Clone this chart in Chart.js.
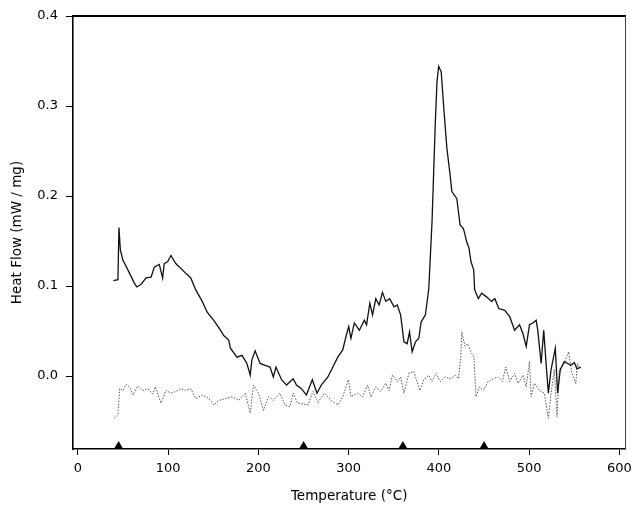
<!DOCTYPE html>
<html>
<head>
<meta charset="utf-8">
<script src="https://cdn.jsdelivr.net/npm/chart.js@4/dist/chart.umd.min.js"></script>
<style>
  html, body { margin: 0; padding: 0; background: #fff; }
  canvas { display: block; }
</style>
</head>
<body>
<canvas id="c" width="638" height="508"></canvas>
<script>
// ---- data ----
const solidT = [39.2,44.3,45.4,47.0,49.8,55.3,62.6,65.2,70,75.5,81,84.6,90.1,93.8,95.6,99.3,103,108.4,117.6,125,130.4,137.7,143.2,150.5,157.9,161.5,167,168.9,176.2,181.7,187.2,190.9,192.7,196.3,201.8,207.3,212.8,216.5,219.4,225.6,231.1,238.5,242.1,247.6,253.1,259.7,264.8,269.6,276.9,282.4,287.9,293.4,297,300,302.5,306.2,311.8,317.3,319.8,323.4,326.4,330,333.7,337.4,341,345.4,350.2,353.8,357.5,361.2,364.8,367.4,370.3,374,377.7,380.2,385,388.7,392.3,396,397.8,399.7,402.5,405.1,408.8,412.4,414.3,419.8,423.4,427.1,430.8,433.3,435.5,438.5,439.5,443.6,447.3,452.7,458.2,461.9,466.3,472.9,478.4,483.8,489.3,493.1,496.7,500.3,504,507.7,509.5,513.2,516.1,518.7,521.2,524.2,528.9,531.5,534.4,538.8,542.5,546.2,550,553,557];
const solidHF = [0.106,0.107,0.165,0.140,0.129,0.118,0.103,0.099,0.102,0.109,0.110,0.121,0.124,0.109,0.125,0.127,0.134,0.125,0.116,0.109,0.096,0.083,0.071,0.062,0.051,0.045,0.040,0.031,0.021,0.023,0.014,0.001,0.018,0.028,0.014,0.012,0.010,-0.001,0.010,-0.004,-0.010,-0.003,-0.010,-0.014,-0.021,-0.004,-0.019,-0.010,-0.001,0.010,0.021,0.029,0.044,0.055,0.042,0.059,0.051,0.062,0.057,0.081,0.068,0.086,0.079,0.093,0.083,0.086,0.077,0.079,0.068,0.038,0.036,0.049,0.027,0.038,0.042,0.060,0.068,0.097,0.171,0.283,0.327,0.344,0.338,0.301,0.253,0.223,0.205,0.197,0.168,0.164,0.149,0.142,0.127,0.118,0.096,0.086,0.092,0.088,0.083,0.086,0.075,0.073,0.066,0.051,0.057,0.047,0.033,0.057,0.059,0.062,0.051,0.014,0.051,0.014,-0.019,0.007,0.031,-0.019,0.007,0.016,0.014,0.012,0.015,0.008,0.010];

const dottedT = [39.9,44.3,46.2,49.8,53.5,57.1,60.8,66.3,71.8,77.3,82.8,85.7,91.9,97.4,103,108.4,114,119.5,125,130.4,137.7,145,150.5,156,163.4,170.7,178,185.4,190.9,194.5,200,205.5,211,216.5,223.8,229.3,234.8,238.5,243.2,255,260.4,266,273.3,280.5,288,293.4,299.6,302.5,309.9,315.4,320.9,324.5,330,335.5,341,344.7,348.4,353.8,357.5,361.2,366.7,372.2,378.8,383.2,388.7,392.3,397,401.4,406.9,412.4,417.9,421.6,424.2,425.3,428.9,431.5,436.3,438.8,441,444.7,449.1,454.6,460.1,465.6,470.3,474,478.4,483.8,487.6,493.1,496.7,500.3,502.2,505.8,511.3,516.8,521.2,524.2,527.8,530.8,533.3,538.8,543.6,547.3,551.6,553.4,555.2];
const dottedHF = [-0.047,-0.043,-0.014,-0.016,-0.009,-0.012,-0.021,-0.011,-0.016,-0.014,-0.020,-0.012,-0.030,-0.016,-0.019,-0.017,-0.014,-0.016,-0.014,-0.025,-0.021,-0.025,-0.032,-0.027,-0.025,-0.023,-0.027,-0.019,-0.041,-0.010,-0.019,-0.038,-0.023,-0.027,-0.019,-0.032,-0.034,-0.019,-0.030,-0.032,-0.017,-0.029,-0.019,-0.027,-0.032,-0.023,-0.004,-0.023,-0.019,-0.023,-0.010,-0.023,-0.012,-0.017,-0.008,-0.016,0.001,-0.006,-0.001,-0.019,0.003,0.005,-0.016,-0.004,0.001,-0.006,0.003,-0.006,-0.001,-0.003,0.001,-0.003,0.021,0.049,0.033,0.036,0.025,0.021,-0.023,-0.012,-0.016,-0.006,-0.003,-0.001,-0.006,0.010,-0.006,0.003,-0.008,0.001,-0.012,0.016,-0.023,-0.008,-0.016,-0.019,-0.047,-0.019,0.007,-0.045,0.007,0.014,0.027,0.003,-0.008,0.014,0.010];

const markerT = [45, 250, 360, 450];
const markerHF = [-0.078, -0.078, -0.078, -0.078];

const xTicks = [0, 100, 200, 300, 400, 500, 600];
const yTicks = [0.0, 0.1, 0.2, 0.3, 0.4];

const xTitle = 'Temperature (°C)';
const yTitle = 'Heat Flow (mW / mg)';

// ---- chart ----
const pts = (xs, ys) => xs.map((x, i) => ({ x: x, y: ys[i] }));
const TICK_FONT = { family: '"DejaVu Sans", "Liberation Sans", Arial, sans-serif', size: 13 };
const TITLE_FONT = { family: '"DejaVu Sans", "Liberation Sans", Arial, sans-serif', size: 13.5 };
const X_MIN = -5.5, X_MAX = 606.5, Y_MIN = -0.081, Y_MAX = 0.4;

new Chart(document.getElementById('c'), {
  type: 'line',
  data: {
    datasets: [
      {
        data: pts(markerT, markerHF),
        type: 'scatter',
        showLine: false,
        pointStyle: 'triangle',
        pointRadius: 5.4,
        backgroundColor: '#000',
        borderColor: '#000',
        borderWidth: 0,
        clip: false,
        order: 0
      },
      {
        data: pts(solidT, solidHF),
        borderColor: '#111',
        borderWidth: 1.3,
        pointRadius: 0,
        tension: 0,
        fill: false,
        order: 1
      },
      {
        data: pts(dottedT, dottedHF),
        borderColor: '#555',
        borderWidth: 1,
        borderDash: [1.5, 1.5],
        pointRadius: 0,
        tension: 0,
        fill: false,
        order: 2
      }
    ]
  },
  options: {
    responsive: false,
    animation: false,
    devicePixelRatio: 1,
    layout: { padding: { top: 16, right: 8, left: 0, bottom: 0 } },
    plugins: { legend: { display: false }, tooltip: { enabled: false } },
    scales: {
      x: {
        type: 'linear',
        position: 'bottom',
        min: X_MIN, max: X_MAX,
        afterBuildTicks: s => { s.ticks = xTicks.map(v => ({ value: v })); },
        afterFit: s => { s.height = 59; },
        ticks: { font: TICK_FONT, color: '#000', padding: 6, maxRotation: 0, autoSkip: false, callback: v => String(v) },
        grid: { drawOnChartArea: false, drawTicks: true, tickLength: 6, tickColor: '#000', tickWidth: 1 },
        border: { display: true, color: '#000', width: 1.6 },
        title: { display: true, text: xTitle, font: TITLE_FONT, color: '#000', padding: { top: 0, bottom: 3 } }
      },
      x2: {
        type: 'linear',
        position: 'top',
        min: X_MIN, max: X_MAX,
        afterFit: s => { s.height = 0; },
        ticks: { display: false },
        grid: { drawOnChartArea: false, drawTicks: false },
        border: { display: true, color: '#000', width: 2 }
      },
      y: {
        type: 'linear',
        position: 'left',
        min: Y_MIN, max: Y_MAX,
        afterBuildTicks: s => { s.ticks = yTicks.map(v => ({ value: v })); },
        afterFit: s => { s.width = 73; },
        ticks: { font: TICK_FONT, color: '#000', padding: 8, callback: v => v.toFixed(1) },
        grid: { drawOnChartArea: false, drawTicks: true, tickLength: 7, tickColor: '#000', tickWidth: 1 },
        border: { display: true, color: '#000', width: 1.6 },
        title: { display: true, text: yTitle, font: TITLE_FONT, color: '#000', padding: { top: 9, bottom: 0 } }
      },
      y2: {
        type: 'linear',
        position: 'right',
        min: Y_MIN, max: Y_MAX,
        afterFit: s => { s.width = 0; },
        ticks: { display: false },
        grid: { drawOnChartArea: false, drawTicks: false },
        border: { display: true, color: '#444', width: 1 }
      }
    }
  }
});
</script>
</body>
</html>
